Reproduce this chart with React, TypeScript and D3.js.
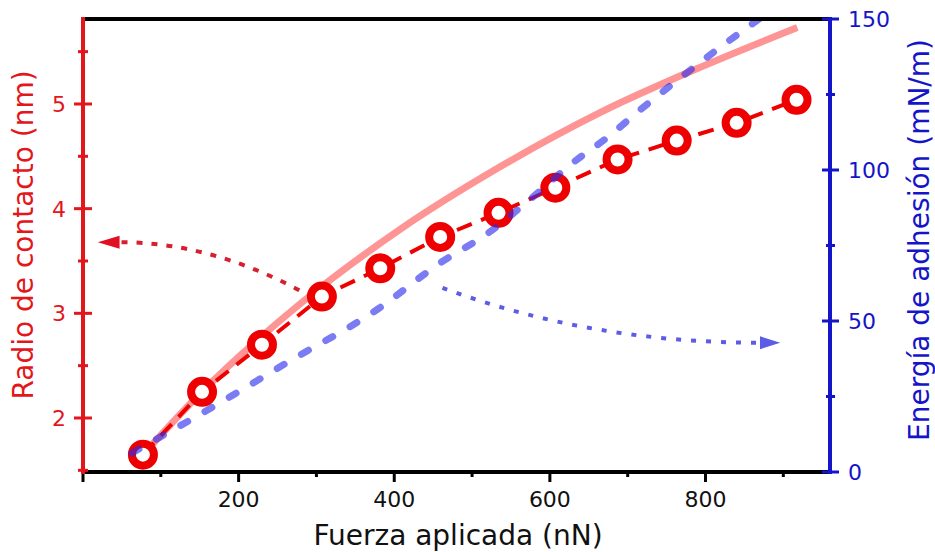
import React from 'react';
import * as d3 from 'd3';

// ---- data ----
const forces = [77, 153, 230, 307, 382, 459, 534, 607, 687, 763, 840, 917];
const radius = [1.65, 2.25, 2.7, 3.16, 3.43, 3.73, 3.96, 4.2, 4.47, 4.65, 4.82, 5.04];
const fitForce = [77, 150, 279, 407, 536, 665, 793, 918];
const fitRadius = [1.65, 2.23, 3.09, 3.8, 4.4, 4.92, 5.35, 5.73];
const energyForce = [63, 189, 262, 378, 456, 527, 570, 635, 671, 717, 777, 851, 880];
const energy = [6.3, 24.9, 36.2, 53.8, 68.7, 80.3, 89.3, 103.5, 110.2, 120.1, 132.4, 146.7, 152];

const xMajorTicks = [0, 200, 400, 600, 800];
const xTickLabels = [200, 400, 600, 800];
const xMinorTicks = [100, 300, 500, 700, 900];
const leftMajorTicks = [2, 3, 4, 5];
const leftMinorTicks = [1.5, 2.5, 3.5, 4.5, 5.5];
const rightMajorTicks = [0, 50, 100, 150];
const rightMinorTicks = [25, 75, 125];

// annotation arrows (data coords): start, control, end of curve, tip
const redArrow = [[278, 3.22], [162, 3.68], [47, 3.68], [19, 3.68]];
const blueArrow = [[462, 61], [651, 42.8], [870, 42.8], [896, 42.8]];

const W = 935, H = 552;
const L = 83, R = 830, T = 19, B = 472;
const RED = '#e3161c';
const BLUE = '#1414c8';
const FONT = 'DejaVu Sans';

export default function App() {
  const x = d3.scaleLinear().domain([0, 960]).range([L, R]);
  const yL = d3.scaleLinear().domain([1.484, 5.812]).range([B, T]);
  const yR = d3.scaleLinear().domain([0, 150]).range([B, T]);

  const fitLine = d3.line<number>().x((_, i) => x(fitForce[i])).y((d) => yL(d)).curve(d3.curveMonotoneX);
  const dataLine = d3.line<number>().x((_, i) => x(forces[i])).y((d) => yL(d));
  const energyLine = d3.line<number>().x((_, i) => x(energyForce[i])).y((d) => yR(d)).curve(d3.curveMonotoneX);

  const arrowPath = (a: number[][], ys: (v: number) => number) => {
    const p = d3.path();
    p.moveTo(x(a[0][0]), ys(a[0][1]));
    p.quadraticCurveTo(x(a[1][0]), ys(a[1][1]), x(a[2][0]), ys(a[2][1]));
    return p.toString();
  };
  const headPath = (a: number[][], ys: (v: number) => number) => {
    const bx = x(a[2][0]), by = ys(a[2][1]);
    const tx = x(a[3][0]), ty = ys(a[3][1]);
    return `M${tx},${ty}L${bx},${by - 6.5}L${bx},${by + 6.5}Z`;
  };

  return (
    <svg width={W} height={H} style={{ position: 'absolute', left: 0, top: 0, background: '#fff' }} fontFamily={FONT}>
      <defs>
        <clipPath id="plot">
          <rect x={L} y={T} width={R - L} height={B - T} />
        </clipPath>
      </defs>
      <rect x={0} y={0} width={W} height={H} fill="#fff" />
      <g clipPath="url(#plot)">
        {/* pink fit */}
        <path d={fitLine(fitRadius) || ''} fill="none" stroke="#ff0000" strokeOpacity={0.42} strokeWidth={7} />
        {/* red dashed data line */}
        <path d={dataLine(radius) || ''} fill="none" stroke="#ee0000" strokeWidth={4} strokeDasharray="16 10" />
        {radius.map((r, i) => (
          <circle key={i} cx={x(forces[i])} cy={yL(r)} r={11} fill="#fff" stroke="#ee0000" strokeWidth={8} />
        ))}
        {/* blue dashed energy */}
        <path d={energyLine(energy) || ''} fill="none" stroke="#2a2aee" strokeOpacity={0.62} strokeWidth={7}
          strokeDasharray="8 20" strokeLinecap="round" />
        {/* arrows */}
        <path d={arrowPath(redArrow, yL)} fill="none" stroke="#d62030" strokeWidth={4} strokeDasharray="6 9" />
        <path d={headPath(redArrow, yL)} fill="#e01020" />
        <path d={arrowPath(blueArrow, yR)} fill="none" stroke="#5c5ce6" strokeWidth={4} strokeDasharray="5 10" />
        <path d={headPath(blueArrow, yR)} fill="#5c5ce6" />
      </g>

      {/* top spine */}
      <line x1={L} x2={R} y1={T} y2={T} stroke="#000" strokeWidth={4} />
      {/* bottom axis */}
      {xMajorTicks.map((t) => (
        <line key={'xM' + t} x1={x(t)} x2={x(t)} y1={B} y2={B + 10} stroke="#000" strokeWidth={3} />
      ))}
      {xMinorTicks.map((t) => (
        <line key={'xm' + t} x1={x(t)} x2={x(t)} y1={B} y2={B + 5} stroke="#000" strokeWidth={3} />
      ))}
      <line x1={L} x2={R} y1={B} y2={B} stroke="#000" strokeWidth={4} />
      {xTickLabels.map((t) => (
        <text key={'xl' + t} x={x(t)} y={507} textAnchor="middle" fontSize={22} fill="#111">{t}</text>
      ))}
      <text x={458} y={545} textAnchor="middle" fontSize={28} fill="#111">Fuerza aplicada (nN)</text>

      {/* left axis */}
      <line x1={L} x2={L} y1={T - 2} y2={B + 2} stroke={RED} strokeWidth={4} />
      {leftMajorTicks.map((t) => (
        <line key={'lM' + t} x1={L - 9} x2={L + 9} y1={yL(t)} y2={yL(t)} stroke={RED} strokeWidth={3} />
      ))}
      {leftMinorTicks.map((t) => (
        <line key={'lm' + t} x1={L - 5} x2={L + 5} y1={yL(t)} y2={yL(t)} stroke={RED} strokeWidth={3} />
      ))}
      {leftMajorTicks.map((t) => (
        <text key={'ll' + t} x={66} y={yL(t)} dy="0.36em" textAnchor="end" fontSize={22} fill={RED}>{t}</text>
      ))}
      <text transform={`translate(33,235) rotate(-90)`} textAnchor="middle" fontSize={28} fill={RED}>Radio de contacto (nm)</text>

      {/* right axis */}
      <line x1={R} x2={R} y1={T - 2} y2={B + 2} stroke={BLUE} strokeWidth={4} />
      {rightMajorTicks.map((t) => (
        <line key={'rM' + t} x1={R - 8} x2={R + 9} y1={yR(t)} y2={yR(t)} stroke={BLUE} strokeWidth={3} />
      ))}
      {rightMinorTicks.map((t) => (
        <line key={'rm' + t} x1={R - 4} x2={R + 5} y1={yR(t)} y2={yR(t)} stroke={BLUE} strokeWidth={3} />
      ))}
      {rightMajorTicks.map((t) => (
        <text key={'rl' + t} x={848} y={yR(t)} dy="0.36em" textAnchor="start" fontSize={22} fill={BLUE}>{t}</text>
      ))}
      <text transform={`translate(929,240) rotate(-90)`} textAnchor="middle" fontSize={28} fill={BLUE}>Energía de adhesión (mN/m)</text>
    </svg>
  );
}
